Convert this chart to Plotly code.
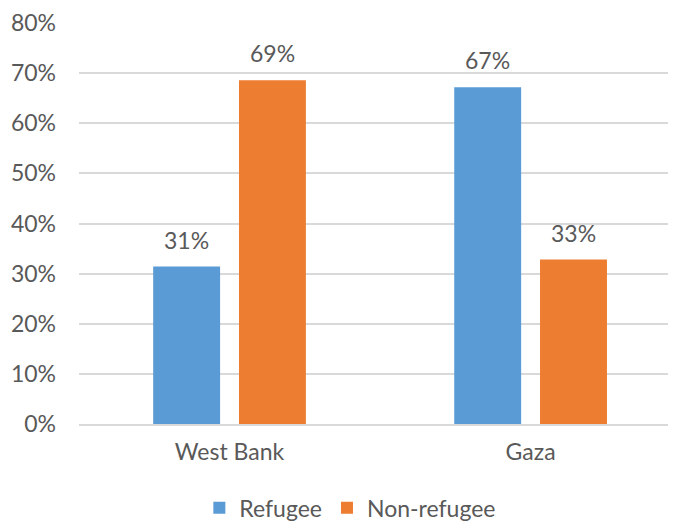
import plotly.graph_objects as go

categories = ["West Bank", "Gaza"]
refugee = [0.314, 0.672]
non_refugee = [0.686, 0.328]
refugee_labels = ["31%", "67%"]
non_refugee_labels = ["69%", "33%"]
tick_vals = [0, 0.1, 0.2, 0.3, 0.4, 0.5, 0.6, 0.7, 0.8]
tick_text = ["0%", "10%", "20%", "30%", "40%", "50%", "60%", "70%", "80%"]

font_family = "Lato, 'Open Sans', sans-serif"
txt_color = "#595959"
FS = 23
bargap = 0.43
bargroupgap = 0.22

fig = go.Figure()
fig.add_trace(go.Bar(name="Refugee", x=categories, y=refugee, marker_color="#5B9BD5",
                     marker_line_width=0))
fig.add_trace(go.Bar(name="Non-refugee", x=categories, y=non_refugee, marker_color="#ED7D31",
                     marker_line_width=0))

# data labels above the bars
slot = (1 - bargap) / 2
for i, cat in enumerate(categories):
    for vals, labs, off in ((refugee, refugee_labels, -slot / 2), (non_refugee, non_refugee_labels, slot / 2)):
        fig.add_annotation(x=i + off, y=vals[i], xref="x", yref="y", text=labs[i],
                           showarrow=False, yanchor="bottom", yshift=11,
                           font=dict(size=FS, color=txt_color, family=font_family))

# page body has an 8px default margin, so the figure is offset by 8px
fig.update_layout(
    width=668, height=517,
    margin=dict(l=71, r=0, t=15, b=101, autoexpand=False),
    paper_bgcolor="white", plot_bgcolor="white",
    barmode="group", bargap=bargap, bargroupgap=bargroupgap,
    font=dict(family=font_family, size=FS, color=txt_color),
    showlegend=True,
    legend=dict(orientation="h", xref="container", x=0.5125, xanchor="center",
                y=-0.209, yanchor="middle",
                font=dict(size=FS, color=txt_color, family=font_family),
                itemwidth=30, traceorder="normal"),
    yaxis=dict(range=[0, 0.8], tickvals=tick_vals, ticktext=tick_text,
               showgrid=True, gridcolor="#D9D9D9", gridwidth=1.5, zeroline=False,
               showline=False, ticks="", ticklabelstandoff=22, automargin=False,
               tickfont=dict(size=FS, color=txt_color, family=font_family)),
    xaxis=dict(range=[-0.5, 1.483], showline=True, linecolor="#D9D9D9", linewidth=1.5,
               ticks="", ticklabelstandoff=7, automargin=False,
               tickfont=dict(size=FS, color=txt_color, family=font_family)),
)

fig.write_html("out.html")
